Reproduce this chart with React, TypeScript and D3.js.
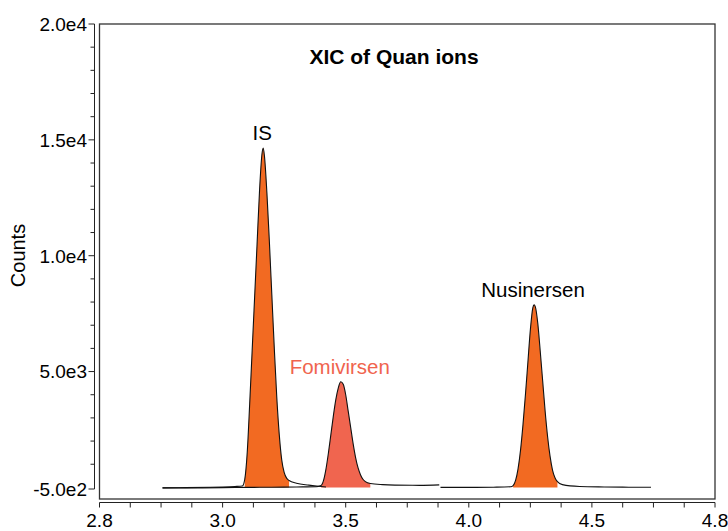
import React, { useEffect, useRef } from "react";
import * as d3 from "d3";

// [time (min), counts]
const isTrace: [number, number][] = [
  [2.756, -20], [2.85, -10], [2.95, 10], [3.0, 20], [3.05, 40], [3.08, 60],
  [3.09, 350], [3.1, 1500], [3.11, 3600], [3.12, 5900], [3.13, 8200],
  [3.14, 10500], [3.15, 12800], [3.16, 14400], [3.165, 14650], [3.17, 14300],
  [3.18, 12700], [3.19, 10600], [3.2, 8300], [3.21, 6000], [3.22, 3900],
  [3.23, 2300], [3.24, 1200], [3.25, 650], [3.26, 400], [3.27, 300],
  [3.3, 180], [3.35, 100], [3.4, 40], [3.42, 20],
];

const fomivirsenTrace: [number, number][] = [
  [2.756, -20], [2.9, -20], [3.0, -10], [3.1, 0], [3.2, 10], [3.3, 20],
  [3.38, 30], [3.4, 80], [3.41, 300], [3.42, 800], [3.43, 1500], [3.44, 2300],
  [3.45, 3100], [3.46, 3800], [3.47, 4300], [3.48, 4560], [3.49, 4450],
  [3.5, 4000], [3.51, 3300], [3.52, 2600], [3.53, 1900], [3.54, 1300],
  [3.55, 850], [3.56, 550], [3.57, 350], [3.58, 250], [3.6, 170],
  [3.65, 120], [3.7, 100], [3.8, 90], [3.88, 110],
];

const nusinersenTrace: [number, number][] = [
  [3.885, 0], [4.0, 0], [4.1, 10], [4.17, 30], [4.18, 80], [4.19, 300],
  [4.2, 800], [4.21, 1600], [4.22, 2700], [4.23, 4000], [4.24, 5400],
  [4.25, 6800], [4.26, 7750], [4.265, 7880], [4.27, 7800], [4.28, 7100],
  [4.29, 5900], [4.3, 4600], [4.31, 3300], [4.32, 2200], [4.33, 1350],
  [4.34, 750], [4.35, 420], [4.36, 250], [4.38, 120], [4.45, 40],
  [4.55, 20], [4.65, 10], [4.74, 10],
];

// integration windows [start, end]
const isWindow = [3.09, 3.27];
const fomivirsenWindow = [3.4, 3.6];
const nusinersenWindow = [4.18, 4.36];

const xTickValues = [2.5, 3.0, 3.5, 4.0, 4.5, 5.0];
const xTickLabels = ["2.8", "3.0", "3.5", "4.0", "4.5", "4.8"];
const yTickValues = [20000, 15000, 10000, 5000, -500];
const yTickLabels = ["2.0e4", "1.5e4", "1.0e4", "5.0e3", "-5.0e2"];

const peakLabels = [
  { text: "IS", t: 3.165, counts: 14650, color: "#000" },
  { text: "Fomivirsen", t: 3.48, counts: 4560, color: "#f0644e" },
  { text: "Nusinersen", t: 4.265, counts: 7880, color: "#000" },
];

const FONT = "'Liberation Sans', Arial, Helvetica, sans-serif";

export default function App() {
  const svgRef = useRef<SVGSVGElement>(null);
  const width = 728;
  const height = 531;
  const left = 99.5;
  const right = 715;
  const top = 24;
  const bottom = 499;

  useEffect(() => {
    const svg = d3.select(svgRef.current);
    svg.selectAll("*").remove();

    const x = d3.scaleLinear().domain([2.5, 5.0]).range([left, right]);
    const y = d3.scaleLinear().domain([-500, 20000]).range([bottom, top]);

    // frame
    svg.append("rect")
      .attr("x", left).attr("y", top)
      .attr("width", right - left).attr("height", bottom - top)
      .attr("fill", "none").attr("stroke", "#333").attr("stroke-width", 1.3);

    // y axis
    const yAxisX = 94.5;
    const yBottomTick = y(-500) - 10;
    const yAxis = svg.append("g").attr("stroke", "#222").attr("stroke-width", 1);
    yAxis.append("line").attr("x1", yAxisX).attr("x2", yAxisX).attr("y1", top).attr("y2", yBottomTick);
    d3.range(1000, 20000, 1000).filter((v) => v % 5000 !== 0).forEach((v) => {
      yAxis.append("line").attr("x1", yAxisX - 4).attr("x2", yAxisX)
        .attr("y1", y(v)).attr("y2", y(v));
    });
    yTickValues.forEach((v, i) => {
      const ty = v === -500 ? yBottomTick : y(v);
      yAxis.append("line").attr("x1", yAxisX - 6).attr("x2", yAxisX).attr("y1", ty).attr("y2", ty);
      svg.append("text")
        .attr("x", 87).attr("y", ty).attr("dy", "0.36em")
        .attr("text-anchor", "end")
        .style("font-family", FONT).style("font-size", "19px")
        .text(yTickLabels[i]);
    });

    svg.append("text")
      .attr("transform", `translate(25, ${(top + bottom) / 2 - 6}) rotate(-90)`)
      .attr("text-anchor", "middle")
      .style("font-family", FONT).style("font-size", "20px")
      .text("Counts");

    // x axis
    const xAxisY = 502.5;
    const xAxis = svg.append("g").attr("stroke", "#222").attr("stroke-width", 1);
    xAxis.append("line").attr("x1", left).attr("x2", right).attr("y1", xAxisY).attr("y2", xAxisY);
    d3.range(2.5, 5.0001, 0.125).forEach((v) => {
      xAxis.append("line").attr("x1", x(v)).attr("x2", x(v)).attr("y1", xAxisY).attr("y2", xAxisY + 5);
    });
    xTickValues.forEach((v, i) => {
      svg.append("text")
        .attr("x", x(v)).attr("y", 527)
        .attr("text-anchor", "middle")
        .style("font-family", FONT).style("font-size", "19px")
        .text(xTickLabels[i]);
    });

    // title
    svg.append("text")
      .attr("x", 394).attr("y", 64)
      .attr("text-anchor", "middle")
      .style("font-family", FONT).style("font-size", "21px").style("font-weight", "bold")
      .text("XIC of Quan ions");

    const line = d3.line<[number, number]>()
      .x((d) => x(d[0]))
      .y((d) => y(d[1]))
      .curve(d3.curveMonotoneX);

    const drawFill = (trace: [number, number][], win: number[], color: string) => {
      const pts = trace.filter((d) => d[0] >= win[0] && d[0] <= win[1]);
      const area = d3.area<[number, number]>()
        .x((d) => x(d[0]))
        .y0(y(0))
        .y1((d) => y(d[1]))
        .curve(d3.curveMonotoneX);
      svg.append("path").datum(pts).attr("d", area).attr("fill", color);
    };

    drawFill(isTrace, isWindow, "#f26a22");
    drawFill(fomivirsenTrace, fomivirsenWindow, "#f0654f");
    drawFill(nusinersenTrace, nusinersenWindow, "#f26a22");

    [fomivirsenTrace, isTrace, nusinersenTrace].forEach((tr) => {
      svg.append("path").datum(tr).attr("d", line)
        .attr("fill", "none").attr("stroke", "#111").attr("stroke-width", 1.1);
    });

    peakLabels.forEach((p) => {
      svg.append("text")
        .attr("x", x(p.t) - 1).attr("y", y(p.counts) - 8)
        .attr("text-anchor", "middle")
        .style("font-family", FONT).style("font-size", "20.5px")
        .attr("fill", p.color)
        .text(p.text);
    });
  }, []);

  return (
    <svg
      ref={svgRef}
      width={width}
      height={height}
      style={{ position: "absolute", left: 0, top: 0, background: "#fff" }}
    />
  );
}
